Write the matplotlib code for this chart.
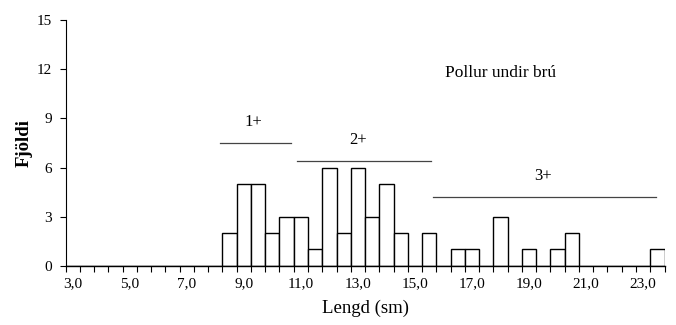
import matplotlib.pyplot as plt
import numpy as np

# length classes (cm), 0.5 cm bins from 3.0 to 23.5
lengths = np.arange(3.0, 24.0, 0.5)
counts = [0, 0, 0, 0, 0, 0, 0, 0, 0, 0, 0,
          2, 5, 5, 2, 3, 3, 1, 6, 2, 6, 3, 5, 2, 0,
          2, 0, 1, 1, 0, 3, 0, 1, 0, 1, 2,
          0, 0, 0, 0, 0, 1]

# age groups: label, start, end, line height
age_labels = ['1+', '2+', '3+']
age_start = [8.15, 10.85, 15.65]
age_end = [10.65, 15.55, 23.45]
age_level = [7.5, 6.4, 4.2]
label_x = [9.35, 13.0, 19.5]

x_labels = [3.0, 5.0, 7.0, 9.0, 11.0, 13.0, 15.0, 17.0, 19.0, 21.0, 23.0]
y_ticks = [0, 3, 6, 9, 12, 15]

plt.rcParams['font.family'] = ['Liberation Serif', 'DejaVu Serif']

fig = plt.figure(figsize=(6.76, 3.25), dpi=100)
ax = fig.add_axes([0.097, 0.182, 0.886, 0.756])

ax.bar(lengths, counts, width=0.5, color='white', edgecolor='black', linewidth=1.0)

for lab, x0, x1, lev, lx in zip(age_labels, age_start, age_end, age_level, label_x):
    ax.plot([x0, x1], [lev, lev], color='#444444', linewidth=0.9)
    ax.text(lx, lev + 1.3, lab, ha='center', va='center', fontsize=12)

ax.text(18.0, 11.8, 'Pollur undir brú', ha='center', va='center', fontsize=12.5)

ax.set_xlim(2.75, 23.75)
ax.set_ylim(0, 15)
ax.set_yticks(y_ticks)
ax.set_yticklabels([str(v) for v in y_ticks], fontsize=11)
ax.set_xticks(x_labels)
ax.set_xticklabels([('%.1f' % v).replace('.', ',') for v in x_labels], fontsize=11)
ax.tick_params(axis='x', length=0, pad=8)
ax.set_xticks(np.arange(2.75, 23.8, 0.5), minor=True)
ax.tick_params(axis='x', which='minor', length=4, direction='out', width=0.8)
ax.tick_params(axis='y', length=4, direction='out', width=0.8, pad=6)

for s in ['top', 'right']:
    ax.spines[s].set_visible(False)
ax.spines['left'].set_linewidth(0.8)
ax.spines['bottom'].set_linewidth(1.0)

ax.set_xlabel('Lengd (sm)', fontsize=13.5, labelpad=7)
ax.set_ylabel('Fjöldi', fontsize=13.5, fontweight='bold', labelpad=3)

fig.savefig('out.png', dpi=100)
